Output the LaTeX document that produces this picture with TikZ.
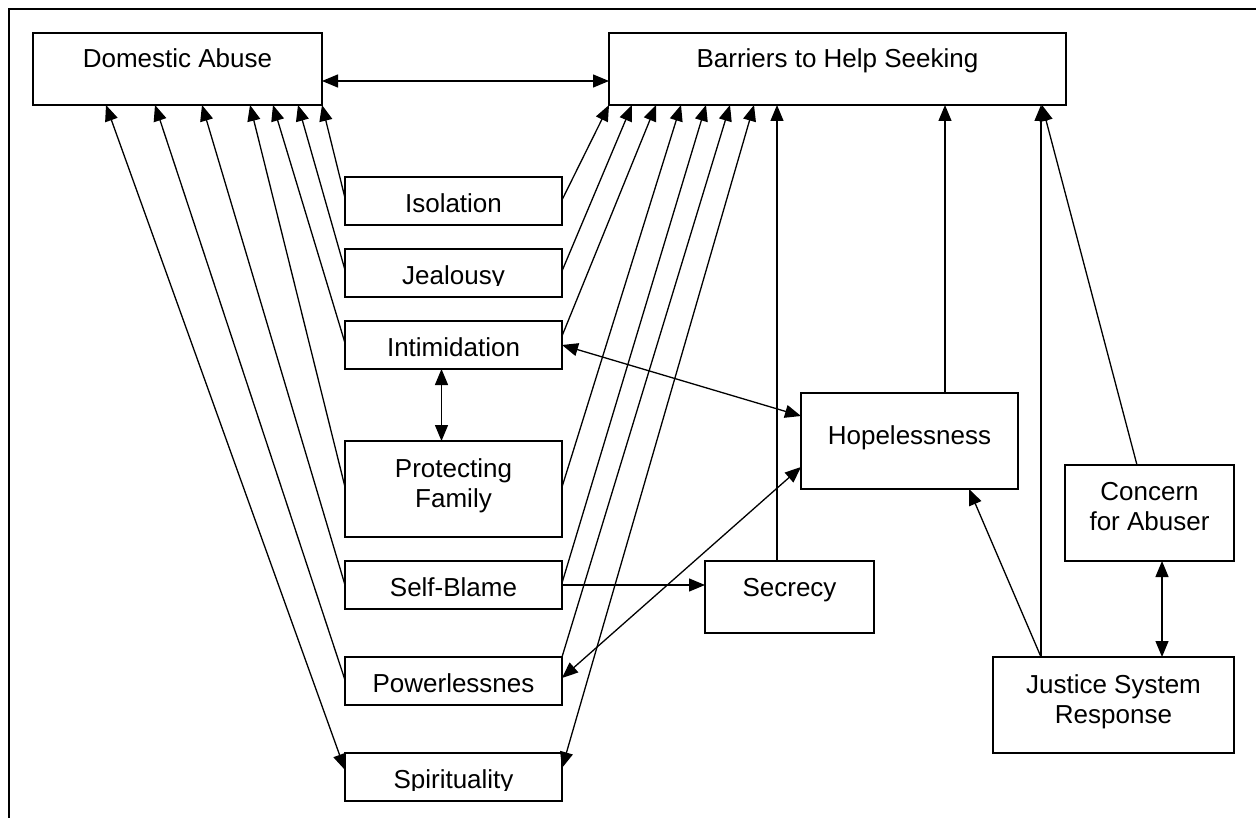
\documentclass[tikz,border=0pt]{standalone}
\usepackage{fontspec}
\setmainfont{Liberation Sans}
\usetikzlibrary{arrows.meta,calc}
\begin{document}
\begin{tikzpicture}[x=1pt,y=-1pt,
  box/.style={draw, line width=1.7pt, inner sep=0pt, outer sep=0pt, anchor=north west},
  lbl/.style={inner sep=0pt, anchor=base, font=\fontsize{26}{30}\selectfont, align=center},
  tip/.tip={Triangle[length=16pt,width=13pt]},
  con/.style={line width=1.3pt, -tip},
  dcon/.style={line width=1.3pt, tip-tip},
]
\useasboundingbox (0,0) rectangle (1256,818);
% outer frame (only top and left edges fall inside the page)
\draw[line width=2pt] (9,830) -- (9,9) -- (1270,9);

% boxes
\node[box, minimum width=289pt, minimum height=72pt] (da)   at (33,33)   {};
\node[box, minimum width=457pt, minimum height=72pt] (bar)  at (609,33)  {};
\node[box, minimum width=217pt, minimum height=48pt] (iso)  at (345,177) {};
\node[box, minimum width=217pt, minimum height=48pt] (jea)  at (345,249) {};
\node[box, minimum width=217pt, minimum height=48pt] (inti) at (345,321) {};
\node[box, minimum width=217pt, minimum height=96pt] (prot) at (345,441) {};
\node[box, minimum width=217pt, minimum height=48pt] (self) at (345,561) {};
\node[box, minimum width=217pt, minimum height=48pt] (pow)  at (345,657) {};
\node[box, minimum width=217pt, minimum height=48pt] (spir) at (345,753) {};
\node[box, minimum width=217pt, minimum height=96pt] (hope) at (801,393) {};
\node[box, minimum width=169pt, minimum height=96pt] (conc) at (1065,465) {};
\node[box, minimum width=169pt, minimum height=72pt] (sec)  at (705,561) {};
\node[box, minimum width=241pt, minimum height=96pt] (just) at (993,657) {};

% labels
\node[lbl] (da-t)   at ($(da.north)+(0,35)$)   {Domestic Abuse};
\node[lbl] (bar-t)  at ($(bar.north)+(0,35)$)  {Barriers to Help Seeking};
\node[lbl] (iso-t)  at ($(iso.north)+(0,36)$)  {Isolation};
\begin{scope}
\clip (345,249) rectangle (562,286);
\node[lbl] (jea-t)  at ($(jea.north)+(0,36)$)  {Jealousy};
\end{scope}
\node[lbl] (inti-t) at ($(inti.north)+(0,35)$) {Intimidation};
\node[lbl] (prot-t) at ($(prot.north)+(0,66)$) {Protecting\\Family};
\node[lbl] (self-t) at ($(self.north)+(0,35)$) {Self-Blame};
\node[lbl] (pow-t)  at ($(pow.north)+(0,35)$)  {Powerlessnes};
\begin{scope}
\clip (345,753) rectangle (562,790);
\node[lbl] (spir-t) at ($(spir.north)+(0,35)$) {Spirituality};
\end{scope}
\node[lbl] (hope-t) at ($(hope.north)+(0,51)$) {Hopelessness};
\node[lbl] (conc-t) at ($(conc.north)+(0,65)$) {Concern\\for Abuser};
\node[lbl] (sec-t)  at ($(sec.north)+(0,35)$)  {Secrecy};
\node[lbl] (just-t) at ($(just.north)+(0,66)$) {Justice System\\Response};

% Domestic Abuse <-> Barriers
\draw[dcon] ($(da.north east)+(0,48)$) -- ($(bar.north west)+(0,48)$);

% left fan to Domestic Abuse
\draw[con]  ($(iso.north west)+(0,21)$)  -- (da.south east);
\draw[con]  ($(jea.north west)+(0,21)$)  -- ($(da.south west)+(265,0)$);
\draw[con]  ($(inti.north west)+(0,22)$) -- ($(da.south west)+(240,0)$);
\draw[con]  ($(prot.north west)+(0,46)$) -- ($(da.south west)+(217,0)$);
\draw[con]  ($(self.north west)+(0,24)$) -- ($(da.south west)+(169,0)$);
\draw[con]  ($(pow.north west)+(0,23)$)  -- ($(da.south west)+(122,0)$);
\draw[dcon] ($(spir.north west)+(0,17)$) -- ($(da.south west)+(73,0)$);

% right fan to Barriers
\draw[con]  ($(iso.north east)+(0,23)$)  -- (bar.south west);
\draw[con]  ($(jea.north east)+(0,22)$)  -- ($(bar.south west)+(23,0)$);
\draw[con]  ($(inti.north east)+(0,15)$) -- ($(bar.south west)+(47,0)$);
\draw[con]  ($(prot.north east)+(0,46)$) -- ($(bar.south west)+(72,0)$);
\draw[con]  ($(self.north east)+(0,22)$) -- ($(bar.south west)+(97,0)$);
\draw[con]  (pow.north east)             -- ($(bar.south west)+(121,0)$);
\draw[dcon] ($(spir.north east)+(0,15)$) -- ($(bar.south west)+(145,0)$);

% other links
\draw[dcon] ($(inti.south)+(-12,0)$) -- ($(prot.north)+(-12,0)$);
\draw[dcon] ($(inti.north east)+(0,24)$) -- ($(hope.north west)+(0,23)$);
\draw[dcon] ($(pow.north east)+(0,21)$) -- ($(hope.north west)+(0,74)$);
\draw[con]  ($(self.north east)+(0,24)$) -- ($(sec.north west)+(0,24)$);
\draw[con]  ($(sec.north west)+(72,0)$) -- ($(bar.south west)+(168,0)$);
\draw[con]  ($(hope.north west)+(144,0)$) -- ($(bar.south west)+(336,0)$);
\draw[con]  ($(just.north west)+(48,0)$) -- ($(bar.south west)+(432,0)$);
\draw[con]  ($(just.north west)+(48,0)$) -- ($(hope.south west)+(168,0)$);
\draw[con]  ($(conc.north west)+(72,0)$) -- ($(bar.south west)+(433,0)$);
\draw[dcon] ($(conc.south west)+(97,0)$) -- ($(just.north west)+(169,0)$);
\end{tikzpicture}
\end{document}
